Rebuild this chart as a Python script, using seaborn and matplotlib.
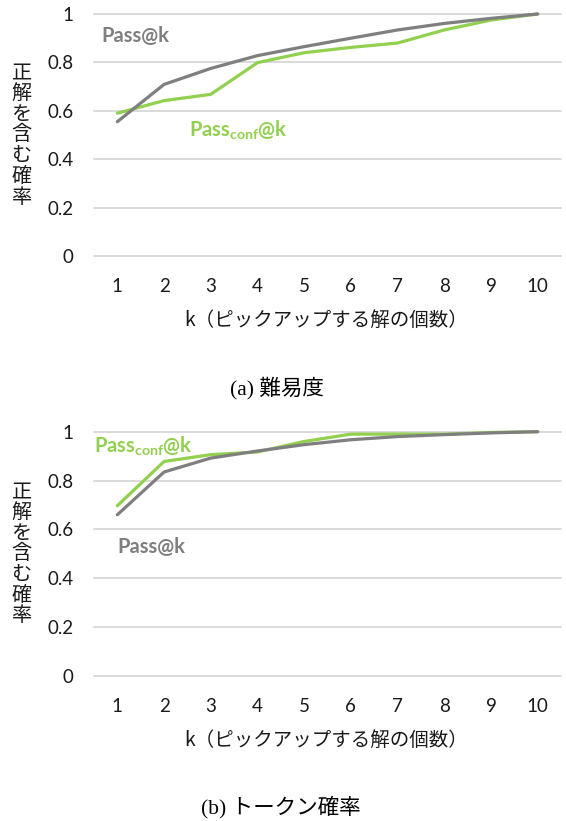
import matplotlib
matplotlib.use("Agg")
import matplotlib.pyplot as plt
import seaborn as sns
import pandas as pd

k_values = [1, 2, 3, 4, 5, 6, 7, 8, 9, 10]
# (a) difficulty
pass_a = [0.555, 0.709, 0.775, 0.828, 0.865, 0.900, 0.934, 0.961, 0.982, 1.0]
passconf_a = [0.59, 0.642, 0.668, 0.799, 0.840, 0.862, 0.880, 0.934, 0.975, 1.0]
# (b) token probability
pass_b = [0.66, 0.835, 0.892, 0.921, 0.947, 0.967, 0.980, 0.988, 0.995, 1.0]
passconf_b = [0.697, 0.878, 0.906, 0.917, 0.960, 0.990, 0.990, 0.990, 0.997, 1.0]
y_ticks = [0, 0.2, 0.4, 0.6, 0.8, 1]
y_tick_labels = ["0", "0.2", "0.4", "0.6", "0.8", "1"]
x_label = "k（ピックアップする解の個数）"
y_label = "正解を含む確率"
captions = ["(a) 難易度", "(b) トークン確率"]

sns.set_theme(style="white")
plt.rcParams['font.family'] = ['Lato', 'Noto Sans CJK JP', 'DejaVu Sans']
plt.rcParams['mathtext.fontset'] = 'custom'
plt.rcParams['mathtext.rm'] = 'Lato:bold'
plt.rcParams['mathtext.it'] = 'Lato:bold'
plt.rcParams['mathtext.bf'] = 'Lato:bold'

GRAY = "#7f7f7f"
GREEN = "#92d050"
GRID = "#d9d9d9"
JP = ['Noto Sans CJK JP', 'DejaVu Sans']

fig = plt.figure(figsize=(5.66, 8.21), dpi=100)
ax_a = fig.add_axes([94/566, 1-256/821, 467/566, 242/821])
ax_b = fig.add_axes([94/566, 1-676/821, 467/566, 244.3/821])

datasets = [(ax_a, pass_a, passconf_a), (ax_b, pass_b, passconf_b)]
for ax, p, pc in datasets:
    df = pd.DataFrame({"k": k_values * 2, "val": p + pc,
                       "series": ["Pass@k"] * 10 + ["Passconf@k"] * 10})
    sns.lineplot(data=df, x="k", y="val", hue="series",
                 palette={"Pass@k": GRAY, "Passconf@k": GREEN},
                 hue_order=["Passconf@k", "Pass@k"],
                 linewidth=2.3, ax=ax, legend=False, clip_on=False)
    ax.set_xlim(0.5, 10.5)
    ax.set_ylim(0, 1)
    ax.set_yticks(y_ticks)
    ax.set_yticklabels(y_tick_labels)
    ax.set_xticks(k_values)
    ax.set_xticklabels([str(k) for k in k_values])
    for y in y_ticks:
        ax.axhline(y, color=GRID, lw=1.4, zorder=0, clip_on=False)
    for s in ax.spines.values():
        s.set_visible(False)
    ax.tick_params(axis="both", length=0, labelsize=13.5, colors="#1a1a1a")
    ax.tick_params(axis="y", pad=15)
    ax.tick_params(axis="x", pad=16)
    ax.set_xlabel(x_label, fontsize=14, family=JP, color="#1a1a1a", va="center")
    ax.xaxis.set_label_coords(0.497, -0.265)
    ax.set_ylabel("\n".join(y_label), fontsize=14.5, family=JP, rotation=0,
                  color="#1a1a1a", linespacing=0.98, va="center", ha="center")
    ax.yaxis.set_label_coords(-0.155, 0.5)

# series labels
ax_a.text(0.015, 0.91, "Pass@k", transform=ax_a.transAxes, color=GRAY,
          fontsize=14.5, fontweight="bold", va="center", ha="left")
ax_a.text(0.203, 0.52, r"$\mathrm{Pass}_{\mathrm{conf}}\mathrm{@k}$",
          transform=ax_a.transAxes, color=GREEN, fontsize=14.5, va="center", ha="left")
ax_b.text(0.0, 0.94, r"$\mathrm{Pass}_{\mathrm{conf}}\mathrm{@k}$",
          transform=ax_b.transAxes, color=GREEN, fontsize=14.5, va="center", ha="left")
ax_b.text(0.05, 0.53, "Pass@k", transform=ax_b.transAxes, color=GRAY,
          fontsize=14.5, fontweight="bold", va="center", ha="left")

fig.text(277/566, 1-388/821, captions[0], ha="center", va="center", fontsize=15.5,
         family=['Liberation Serif', 'Noto Sans CJK JP'], color="black")
fig.text(281/566, 1-807/821, captions[1], ha="center", va="center", fontsize=15.5,
         family=['Liberation Serif', 'Noto Sans CJK JP'], color="black")

fig.savefig("out.png", dpi=100)
